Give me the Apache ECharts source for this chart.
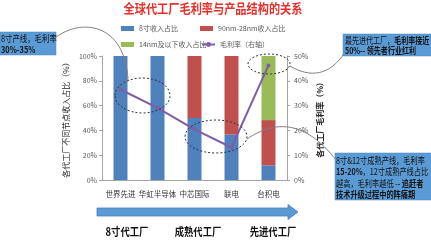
<!DOCTYPE html>
<html>
<head>
<meta charset="utf-8">
<script src="https://cdn.jsdelivr.net/npm/echarts@6/dist/echarts.min.js"></script>
<style>
html,body{margin:0;padding:0;background:#fff;}
#c{width:431px;height:240px;}
</style>
</head>
<body>
<div id="c"></div>
<script>
var categories = ['世界先进', '华虹半导体', '中芯国际', '联电', '台积电'];
var share8inch = [100, 100, 50, 36.7, 11.8];
var share90to28 = [0, 0, 50, 63.3, 36.5];
var share14below = [0, 0, 0, 0, 51.7];
var grossMargin = [36.5, 29.1, 20.4, 13.1, 46.2];
var leftTicks = [0, 20, 40, 60, 80, 100];
var rightTicks = [0, 10, 20, 30, 40, 50];

var FONT = '"Noto Sans CJK SC", "Noto Sans", sans-serif';
var chart = echarts.init(document.getElementById('c'), null, {renderer: 'canvas'});

var legendBase = {
  icon: 'rect', itemWidth: 13, itemHeight: 5, itemGap: 4,
  textStyle: {fontSize: 7, color: '#595959', fontFamily: FONT}
};
function lg(name, left, top, icon) {
  var o = Object.assign({}, legendBase, {data: [name], left: left, top: top});
  if (icon === null) { delete o.icon; o.itemHeight = 6; }
  return o;
}

var boxFill = '#5B9BD5';
var boxStroke = '#4A86C2';
var txtColor = '#111';

chart.setOption({
  animation: false,
  textStyle: {fontFamily: FONT},
  legend: [
    lg('8寸收入占比', 116, 20),
    lg('90nm-28nm收入占比', 195, 20),
    lg('14nm及以下收入占比', 116, 36),
    lg('毛利率（右轴）', 196, 36, null)
  ],
  grid: {left: 102, right: 144, top: 56, bottom: 60},
  xAxis: {
    type: 'category', data: categories,
    axisLine: {lineStyle: {color: '#A6A6A6'}},
    axisTick: {show: false},
    axisLabel: {interval: 0, fontSize: 7.5, color: '#333', margin: 10, fontFamily: FONT}
  },
  yAxis: [{
    type: 'value', min: leftTicks[0], max: leftTicks[leftTicks.length - 1], interval: 20,
    name: '各代工厂不同节点收入占比（%）', nameLocation: 'middle', nameRotate: 90, nameGap: 32,
    nameTextStyle: {fontSize: 8, color: '#262626', fontFamily: FONT},
    axisLine: {show: true, lineStyle: {color: '#A6A6A6'}},
    axisTick: {show: true, length: 3, lineStyle: {color: '#A6A6A6'}},
    splitLine: {show: false},
    axisLabel: {formatter: '{value}%', fontSize: 7, color: '#595959', margin: 5}
  }, {
    type: 'value', min: rightTicks[0], max: rightTicks[rightTicks.length - 1], interval: 10,
    name: '各代工厂毛利率（%）', nameLocation: 'middle', nameRotate: 90, nameGap: 29,
    nameTextStyle: {fontSize: 8, color: '#262626', fontWeight: 'bold', fontFamily: FONT},
    axisLine: {show: true, lineStyle: {color: '#A6A6A6'}},
    axisTick: {show: true, length: 3, lineStyle: {color: '#A6A6A6'}},
    splitLine: {show: false},
    axisLabel: {formatter: '{value}%', fontSize: 7, color: '#595959', margin: 7}
  }],
  series: [
    {name: '8寸收入占比', type: 'bar', stack: 's', data: share8inch, barWidth: 14, itemStyle: {color: '#4F81BD'}},
    {name: '90nm-28nm收入占比', type: 'bar', stack: 's', data: share90to28, barWidth: 14, itemStyle: {color: '#C0504D'}},
    {name: '14nm及以下收入占比', type: 'bar', stack: 's', data: share14below, barWidth: 14, itemStyle: {color: '#9BBB59'}},
    {name: '毛利率（右轴）', type: 'line', yAxisIndex: 1, data: grossMargin,
     symbol: 'circle', symbolSize: 4, lineStyle: {color: '#7E5FA6', width: 2},
     itemStyle: {color: '#7E5FA6'}, z: 5}
  ],
  graphic: [
    {type: 'text', x: 213, y: 2, scaleX: 0.86, z: 10,
     style: {text: '全球代工厂毛利率与产品结构的关系', x: 0, y: 0, align: 'center',
       font: 'bold 13px ' + FONT, fill: '#E6302B'}},
    {type: 'ellipse', shape: {cx: 142.5, cy: 95.5, rx: 27.5, ry: 17.5}, z: 20,
     style: {fill: 'none', stroke: '#333', lineWidth: 1, lineDash: [2, 2]}},
    {type: 'ellipse', shape: {cx: 216, cy: 136.5, rx: 31, ry: 16.5}, z: 20,
     style: {fill: 'none', stroke: '#333', lineWidth: 1, lineDash: [2, 2]}},
    {type: 'ellipse', shape: {cx: 269, cy: 64, rx: 21, ry: 10}, z: 20,
     style: {fill: 'none', stroke: '#333', lineWidth: 1, lineDash: [2, 2]}},
    {type: 'bezierCurve', z: 20, shape: {x1: 55, y1: 38, cpx1: 80, cpy1: 18, cpx2: 125, cpy2: 22, x2: 128, y2: 80},
     style: {stroke: '#7F7F7F', lineWidth: 1, fill: 'none'}},
    {type: 'bezierCurve', z: 20, shape: {x1: 290, y1: 66, cpx1: 310, cpy1: 78, cpx2: 330, cpy2: 76, x2: 345, y2: 52},
     style: {stroke: '#7F7F7F', lineWidth: 1, fill: 'none'}},
    {type: 'bezierCurve', z: 20, shape: {x1: 247, y1: 139, cpx1: 275, cpy1: 120, cpx2: 305, cpy2: 120, x2: 336, y2: 160},
     style: {stroke: '#7F7F7F', lineWidth: 1, fill: 'none'}},
    {type: 'rect', z: 21, shape: {x: 0, y: 32, width: 56, height: 23},
     style: {fill: boxFill, stroke: boxStroke, lineWidth: 0.5}},
    {type: 'text', z: 22, x: 1, y: 33, scaleX: 0.82,
     style: {x: 0, y: 0, text: '{n|8寸产线，毛利率}\n{b|30%-35%}',
       rich: {n: {fontSize: 9, fontFamily: FONT, fill: txtColor, lineHeight: 11},
              b: {fontSize: 9, fontWeight: 'bold', fontFamily: FONT, fill: txtColor, lineHeight: 11}}}},
    {type: 'rect', z: 21, shape: {x: 343, y: 34, width: 90, height: 22},
     style: {fill: boxFill, stroke: boxStroke, lineWidth: 0.5}},
    {type: 'text', z: 22, x: 345, y: 35, scaleX: 0.78,
     style: {x: 0, y: 0, text: '{n|最先进代工厂，}{b|毛利率接近}\n{b|50%-- 领先者行业红利}',
       rich: {n: {fontSize: 9, fontFamily: FONT, fill: txtColor, lineHeight: 10.5},
              b: {fontSize: 9, fontWeight: 'bold', fontFamily: FONT, fill: txtColor, lineHeight: 10.5}}}},
    {type: 'rect', z: 21, shape: {x: 335, y: 153, width: 98, height: 47},
     style: {fill: boxFill, stroke: boxStroke, lineWidth: 0.5}},
    {type: 'text', z: 22, x: 336, y: 155, scaleX: 0.8,
     style: {x: 0, y: 0,
       text: '{n|8寸&12寸成熟产线，毛利率}\n{b|15-20%}{n|，12寸成熟产线占比}\n{n|越高，毛利率越低 -- }{b|追赶者}\n{b|技术升级过程中的阵痛期}',
       rich: {n: {fontSize: 9, fontFamily: FONT, fill: txtColor, lineHeight: 11.3},
              b: {fontSize: 9, fontWeight: 'bold', fontFamily: FONT, fill: txtColor, lineHeight: 11.3}}}},
    {type: 'polygon', z: 10,
     shape: {points: [[97, 208], [288, 208], [288, 204.5], [298, 212], [288, 219.5], [288, 216], [97, 216]]},
     style: {fill: '#5B9BD5', stroke: '#4A7EBB', lineWidth: 0.8}},
    {type: 'text', z: 10, x: 127, y: 226, scaleX: 0.85,
     style: {x: 0, y: 0, text: '8寸代工厂', align: 'center', font: 'bold 11px ' + FONT, fill: '#111'}},
    {type: 'text', z: 10, x: 198, y: 226, scaleX: 0.85,
     style: {x: 0, y: 0, text: '成熟代工厂', align: 'center', font: 'bold 11px ' + FONT, fill: '#111'}},
    {type: 'text', z: 10, x: 273, y: 226, scaleX: 0.85,
     style: {x: 0, y: 0, text: '先进代工厂', align: 'center', font: 'bold 11px ' + FONT, fill: '#111'}}
  ]
});
</script>
</body>
</html>
